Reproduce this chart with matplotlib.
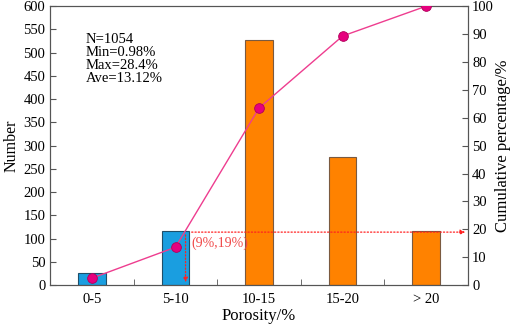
import matplotlib.pyplot as plt
import numpy as np

plt.rcParams['font.family'] = ['Liberation Serif', 'DejaVu Serif']

categories = ['0-5', '5-10', '10-15', '15-20', '> 20']
counts = [26, 116, 527, 275, 117]
cumulative = [2.5, 13.6, 63.5, 89.3, 100]
bar_colors = ['#1a9ee0', '#1a9ee0', '#ff8200', '#ff8200', '#ff8200']
edge_colors = ['#1f4f6a', '#1f4f6a', '#7a5a40', '#7a5a40', '#7a5a40']
stats_text = 'N=1054\nMin=0.98%\nMax=28.4%\nAve=13.12%'
mark_x, mark_y = 9, 19

fig = plt.figure(figsize=(5.12, 3.24), dpi=100)
ax = fig.add_axes([0.098, 0.12, 0.816, 0.861])
x = np.arange(len(categories))

ax.bar(x, counts, width=0.33, color=bar_colors, edgecolor=edge_colors, linewidth=0.8, zorder=2)
ax.set_xlim(-0.5, len(categories) - 0.5)
ax.set_ylim(0, 600)
ax.set_yticks(np.arange(0, 601, 50))
ax.set_xticks(x)
ax.set_xticklabels(categories)
ax.set_xticks(x[:-1] + 0.5, minor=True)
ax.tick_params(axis='x', which='major', length=0, labelsize=10.5, pad=6)
ax.tick_params(axis='x', which='minor', direction='in', length=4, color='#555555')
ax.tick_params(axis='y', direction='in', length=4, labelsize=10.5, color='#555555')
ax.set_xlabel('Porosity/%', fontsize=12, labelpad=1)
ax.set_ylabel('Number', fontsize=11.5, labelpad=3)

ax.text(0.085, 0.905, stats_text, transform=ax.transAxes, fontsize=10.5,
        va='top', ha='left', linespacing=1.0)

ax2 = ax.twinx()
ax2.set_ylim(0, 100)
ax2.set_yticks(np.arange(0, 101, 10))
ax2.tick_params(axis='y', direction='in', length=4, labelsize=10.5, color='#555555', pad=3)
ax2.set_ylabel('Cumulative percentage/%', fontsize=12, labelpad=1)
ax2.plot(x, cumulative, color='#ee3d8f', linewidth=1.0, marker='o', markersize=7,
         markerfacecolor='#e6007e', markeredgecolor='#b0005a', markeredgewidth=0.6, zorder=4)

# red guide lines for the (9%,19%) point
x_mark = 1.12
ax2.annotate('', xy=(len(categories) - 0.5, mark_y), xytext=(x_mark + 0.04, mark_y),
             arrowprops=dict(arrowstyle='-|>', color='#ff2020', linestyle=':', lw=0.9,
                             mutation_scale=7))
ax2.annotate('', xy=(x_mark, 0), xytext=(x_mark, mark_y),
             arrowprops=dict(arrowstyle='-|>', color='#ff2020', linestyle=':', lw=0.9,
                             mutation_scale=7))
ax2.text(x_mark + 0.07, mark_y - 1.5, '(%d%%,%d%%)' % (mark_x, mark_y), color='#f04848',
         fontsize=10, va='top', ha='left')

for a in (ax, ax2):
    for s in a.spines.values():
        s.set_color('#555555')

fig.savefig('out.png', dpi=100)
